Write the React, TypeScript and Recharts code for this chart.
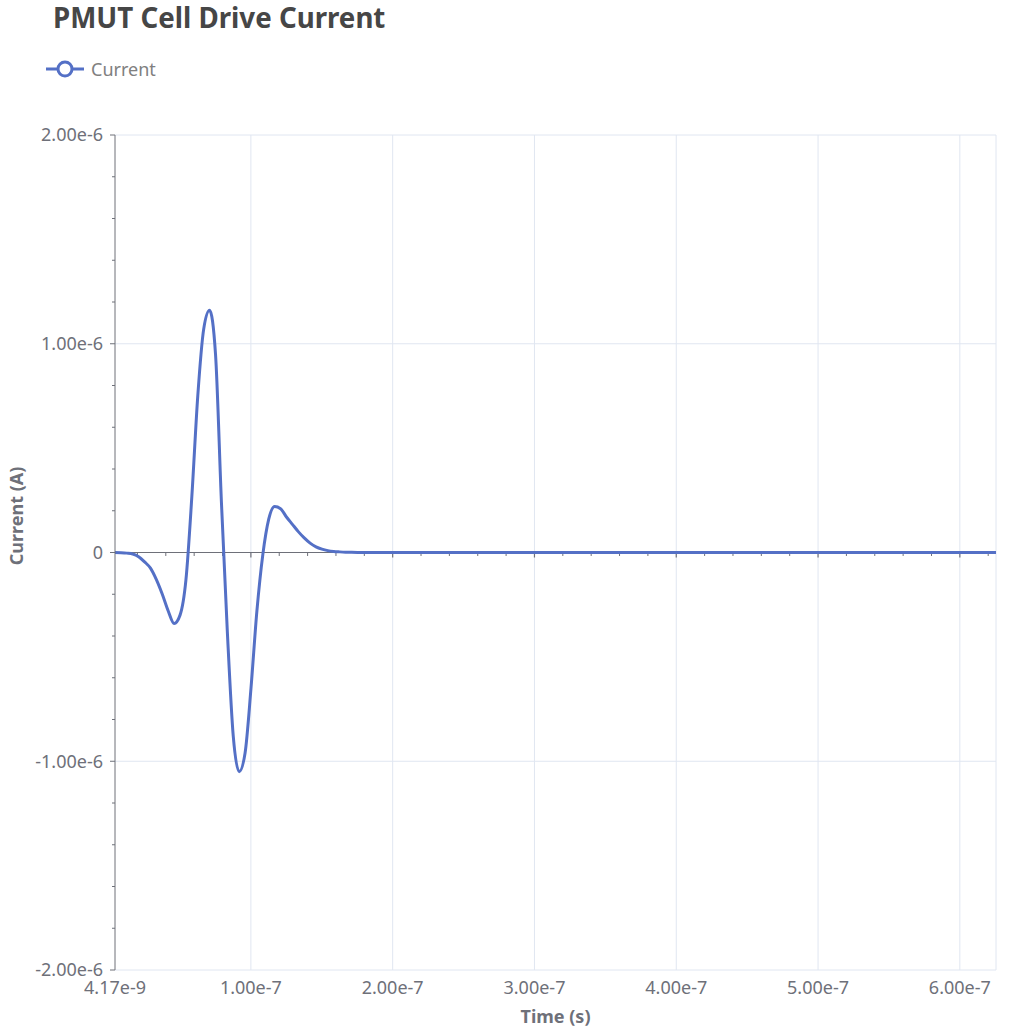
import React from "react";
import {
  LineChart,
  Line,
  XAxis,
  YAxis,
  CartesianGrid,
  ReferenceLine,
  Legend,
} from "recharts";

// sample times in ns (solver step 4.17 ns), tail thinned where the signal is flat
const timeNs = [
  4.17, 8.34, 12.51, 16.68, 20.85, 25.02, 29.19, 33.36, 37.53, 41.7,
  45.87, 50.04, 54.21, 58.38, 62.55, 66.72, 70.89, 75.06, 79.23, 83.4,
  87.57, 91.74, 95.91, 100.08, 104.25, 108.42, 112.59, 116.76, 120.93, 125.1,
  129.27, 133.44, 137.61, 141.78, 145.95, 150.12, 154.29, 158.46, 162.63, 166.8,
  170.97, 175.14, 208.5, 250.2, 291.9, 333.6, 375.3, 417.0, 458.7, 500.4,
  542.1, 583.8, 625.5,
];

// drive current in uA
const currentUA = [
  0, -0.001, -0.003, -0.007, -0.02, -0.045, -0.075, -0.13, -0.2, -0.28,
  -0.34, -0.3, -0.13, 0.27, 0.75, 1.07, 1.16, 0.95, 0.24, -0.38,
  -0.88, -1.05, -0.96, -0.65, -0.28, -0.01, 0.16, 0.22, 0.21, 0.17,
  0.135, 0.1, 0.07, 0.045, 0.027, 0.016, 0.009, 0.005, 0.003, 0.0015,
  0.0008, 0.0004, 0, 0, 0, 0, 0, 0, 0, 0,
  0, 0, 0,
];

const xTicks = [4.17e-9, 1e-7, 2e-7, 3e-7, 4e-7, 5e-7, 6e-7];
const yMajorTicks = [-2e-6, -1e-6, 0, 1e-6, 2e-6];

const X_MIN = 4.17e-9;
const X_MAX = 6.255e-7;
const Y_MIN = -2e-6;
const Y_MAX = 2e-6;

const data = timeNs.map((t, i) => ({ t: t * 1e-9, current: currentUA[i] * 1e-6 }));

// minor ticks every 2e-8 s on x, 2e-7 A on y
const xMinorTicks: number[] = [];
for (let i = 1; i <= 31; i++) if (i % 5 !== 0) xMinorTicks.push(i * 2e-8);
const yAllTicks: number[] = [];
for (let i = -10; i <= 10; i++) yAllTicks.push(i * 2e-7);

const FONT = "'Noto Sans', 'Open Sans', sans-serif";
const AXIS = "#6E7079";
const GRID = "#E0E6F1";
const BLUE = "#5470C6";
const PX = 4.79e-9; // one pixel in amps (4e-6 over 835px)

const fmt = (v: number) => (Math.abs(v) < 1e-15 ? "0" : v.toExponential(2));
const isMajorY = (v: number) => Math.abs(Math.round(v / 1e-6) * 1e-6 - v) < 1e-12;

const XTick = (props: any) => {
  const { x, y, payload } = props;
  return (
    <text x={x} y={y} dy="0.71em" textAnchor="middle" fill={AXIS} fontSize={18} fontFamily={FONT}>
      {fmt(payload.value)}
    </text>
  );
};

const YTick = (props: any) => {
  const { x, y, payload } = props;
  const axisX = x + 12;
  const major = isMajorY(payload.value);
  return (
    <g>
      <line x1={axisX - (major ? 5 : 3)} y1={y} x2={axisX} y2={y} stroke={AXIS} />
      {major && (
        <text x={x} y={y} dy="0.35em" textAnchor="end" fill={AXIS} fontSize={18} fontFamily={FONT}>
          {fmt(payload.value)}
        </text>
      )}
    </g>
  );
};

const LegendContent = () => (
  <div style={{ display: "flex", alignItems: "center", fontFamily: FONT, fontSize: 18, color: "#808080" }}>
    <svg width={38} height={20}>
      <line x1={0} y1={10} x2={38} y2={10} stroke={BLUE} strokeWidth={3} />
      <circle cx={19} cy={10} r={7} fill="#fff" stroke={BLUE} strokeWidth={3} />
    </svg>
    <span style={{ marginLeft: 7 }}>Current</span>
  </div>
);

export default function App() {
  return (
    <div style={{ position: "relative", width: 1026, height: 1030, background: "#fff" }}>
      <style>{`body{margin:0}`}</style>
      <div
        style={{
          position: "absolute",
          left: 53,
          top: -2,
          fontFamily: FONT,
          fontWeight: 700,
          fontSize: 27.7,
          color: "#464646",
          zIndex: 2,
        }}
      >
        PMUT Cell Drive Current
      </div>
      <LineChart width={1026} height={1030} data={data} margin={{ top: 135, right: 30, bottom: 0, left: 15 }}>
        <CartesianGrid
          stroke={GRID}
          horizontalValues={yMajorTicks}
          verticalValues={[...xTicks.slice(1), X_MAX]}
        />
        <XAxis
          dataKey="t"
          type="number"
          domain={[X_MIN, X_MAX]}
          ticks={xTicks}
          interval={0}
          allowDataOverflow
          axisLine={false}
          tickLine={false}
          tickSize={0}
          tickMargin={11}
          height={60}
          tick={<XTick />}
          label={{
            value: "Time (s)",
            position: "insideBottom",
            offset: 7,
            fill: AXIS,
            fontSize: 18,
            fontWeight: 700,
            fontFamily: FONT,
          }}
        />
        <YAxis
          type="number"
          domain={[Y_MIN, Y_MAX]}
          ticks={yAllTicks}
          interval={0}
          width={100}
          axisLine={{ stroke: AXIS }}
          tickLine={false}
          tickSize={5}
          tickMargin={7}
          tick={<YTick />}
          label={{
            content: () => (
              <text
                x={16}
                y={516}
                transform="rotate(-90 16 516)"
                textAnchor="middle"
                dominantBaseline="central"
                fill={AXIS}
                fontSize={18}
                fontWeight={700}
                fontFamily={FONT}
              >
                Current (A)
              </text>
            ),
          }}
        />
        <ReferenceLine y={0} stroke={AXIS} strokeWidth={1.2} />
        {xTicks.slice(1).map((v) => (
          <ReferenceLine
            key={"M" + v}
            segment={[{ x: v, y: 0 }, { x: v, y: -5 * PX }]}
            stroke={AXIS}
            strokeWidth={1.2}
            ifOverflow="visible"
          />
        ))}
        {xMinorTicks.map((v) => (
          <ReferenceLine
            key={"m" + v}
            segment={[{ x: v, y: 0 }, { x: v, y: -3.5 * PX }]}
            stroke={AXIS}
            ifOverflow="visible"
          />
        ))}
        <Legend
          layout="vertical"
          align="center"
          verticalAlign="middle"
          wrapperStyle={{ top: 57, left: 46, width: "auto" }}
          content={<LegendContent />}
        />
        <Line
          type="monotone"
          dataKey="current"
          stroke={BLUE}
          strokeWidth={3}
          dot={false}
          isAnimationActive={false}
        />
      </LineChart>
    </div>
  );
}
